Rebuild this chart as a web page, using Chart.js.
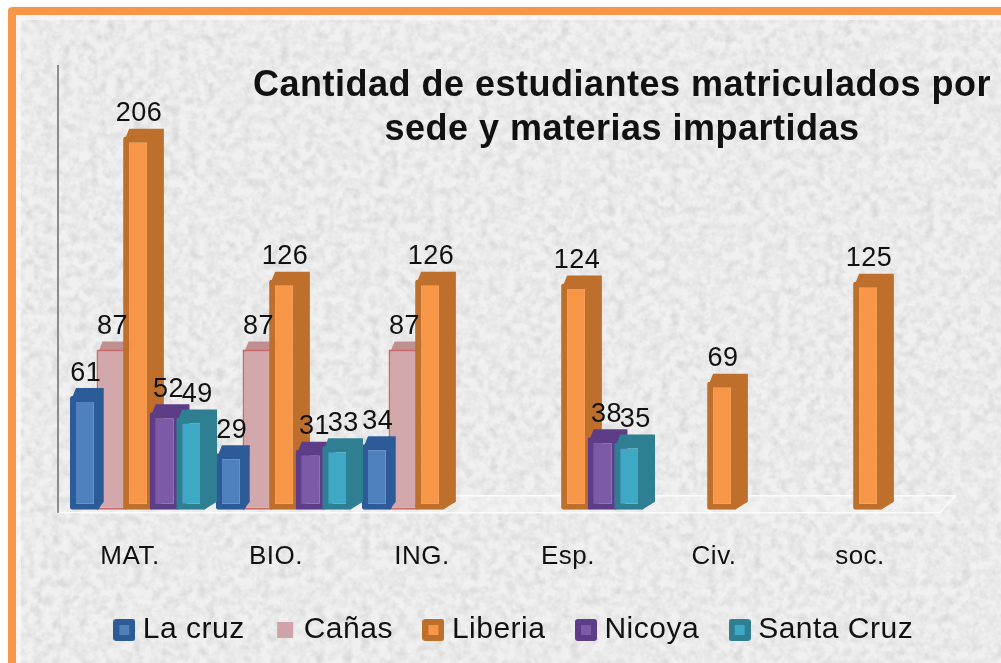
<!DOCTYPE html>
<html><head><meta charset="utf-8">
<style>
html,body{margin:0;padding:0;background:#fff;width:1001px;height:663px;overflow:hidden}
#bg{position:absolute;left:8px;top:7px;width:1040px;height:700px;box-sizing:border-box;border:8px solid #f79646;border-radius:4px;
background-color:#f0f0f0;
background-image:url("data:image/svg+xml;utf8,<svg xmlns='http://www.w3.org/2000/svg' width='1040' height='700'><filter id='n'><feTurbulence type='fractalNoise' baseFrequency='0.11' numOctaves='3' seed='7'/><feColorMatrix values='0 0 0 0 0.55  0 0 0 0 0.55  0 0 0 0 0.55  0.7 0.7 0 0 -0.56'/></filter><rect width='1040' height='700' filter='url(%23n)'/></svg>");
box-shadow:inset 0 0 0 5px rgba(255,255,255,.55)}
#c{position:absolute;left:0;top:0}
</style>
<script src="https://cdn.jsdelivr.net/npm/chart.js@4"></script>
</head><body><div id="bg"></div><canvas id="c" width="1001" height="663"></canvas>
<script>
const categories=['MAT.','BIO.','ING.','Esp.','Civ.','soc.'];
const laCruz=[61,29,34,null,null,null];
const canas=[87,87,87,null,null,null];
const liberia=[206,126,126,124,69,125];
const nicoya=[52,31,null,38,null,null];
const santaCruz=[49,33,null,35,null,null];
const seriesNames=['La cruz','Cañas','Liberia','Nicoya','Santa Cruz'];
const titleLines=['Cantidad de estudiantes matriculados por','sede y materias impartidas'];
const fills=['#4f81bd','#d3a8ac','#f79646','#7d5aa8','#3fa8c4'];
const darks=['#2d5b98','#c96a68','#bd6f2b','#5e3d88','#2f7f93'];
const caps=['#2d5b98','#bf8f92','#bd6f2b','#5e3d88','#2f7f93'];
const sides=['#2d5b98','rgba(225,190,190,.25)','#bd6f2b','#5e3d88','#2f7f93'];
const borderW=[6,2,6,6,6];
const depthX=[4,11,11,10,11];
const labelShift=[1,1,1,4,6];
const values=[laCruz,canas,liberia,nicoya,santaCruz];
const paintOrder=[1,0,2,3,4];
const DY=8;

function swatch(i){
  const s=document.createElement('canvas');s.width=22;s.height=22;const g=s.getContext('2d');
  if(i===1){g.fillStyle='#cfa3a8';g.fillRect(3,3,16,16);return s;}
  g.fillStyle=darks[i];g.beginPath();g.roundRect(0,0,22,22,3);g.fill();
  g.fillStyle=fills[i];g.fillRect(6,6,10,10);return s;
}
const swatches=seriesNames.map((_,i)=>swatch(i));

const scene={id:'scene',
  beforeLayout(chart){chart.ctx.letterSpacing='0.5px';},
  beforeDraw(chart){chart.ctx.letterSpacing='0.5px';},
  afterLayout(chart){
    const t=chart.titleBlock;
    t.left=622-380;t.right=622+380;t.top=64;t.bottom=t.top+t.height;
    const l=chart.legend; l.left+=14; l.right+=14; l.top=578; l.bottom=l.top+l.height;
  },
  beforeDatasetsDraw(chart){
    const c=chart.ctx,ys=chart.scales.y;
    const y0=ys.bottom;
    c.save();
    c.fillStyle='rgba(255,255,255,.22)';
    c.beginPath();c.moveTo(62,y0+3);c.lineTo(940,y0+3);c.lineTo(955,y0-14);c.lineTo(85,y0-14);c.closePath();c.fill();
    c.strokeStyle='#fbfbfb';c.lineWidth=1.5;
    c.beginPath();c.moveTo(60,y0+3);c.lineTo(940,y0+3);c.lineTo(955,y0-14);c.lineTo(85,y0-14);c.stroke();
    c.strokeStyle='#8c8c8c';c.lineWidth=2;
    c.beginPath();c.moveTo(58,65);c.lineTo(58,y0+3);c.stroke();
    c.restore();
    paintOrder.forEach(i=>{
      const vals=values[i],DX=depthX[i];
      chart.getDatasetMeta(i).data.forEach((b,j)=>{
        if(vals[j]==null)return;
        const p=b.getProps(['x','y','base','width'],true);
        const L=p.x-p.width/2,R=p.x+p.width/2;
        c.save();
        c.fillStyle=sides[i];
        c.beginPath();c.moveTo(R-2,p.y);c.lineTo(R+DX,p.y-DY);c.lineTo(R+DX,p.base-DY);c.lineTo(R-2,p.base);c.closePath();c.fill();
        c.fillStyle=caps[i];
        c.beginPath();c.moveTo(L+2,p.y+2);c.lineTo(L+6,p.y-DY);c.lineTo(R+DX,p.y-DY);c.lineTo(R,p.y+2);c.closePath();c.fill();
        c.restore();
        b.draw(c);
      });
    });
    c.save();c.font='27px "Liberation Sans"';c.fillStyle='#111';c.textAlign='center';c.textBaseline='middle';
    values.forEach((vals,i)=>{
      chart.getDatasetMeta(i).data.forEach((b,j)=>{
        if(vals[j]==null)return;
        const p=b.getProps(['x','y'],true);
        c.fillText(String(vals[j]),p.x+labelShift[i],p.y-23);
      });
    });
    c.restore();
    return false;
  }
};

new Chart(document.getElementById('c'),{
  type:'bar',
  data:{labels:categories,datasets:values.map((v,i)=>({
    label:seriesNames[i],data:v,base:-2.6,backgroundColor:fills[i],borderColor:darks[i],borderWidth:borderW[i],borderSkipped:false,borderRadius:i===1?0:2,
    categoryPercentage:.91,barPercentage:1.12
  }))},
  options:{
    responsive:false,animation:false,devicePixelRatio:1,
    layout:{padding:{left:65,right:60,top:0,bottom:-9}},
    plugins:{
      tooltip:{enabled:false},
      title:{display:true,text:titleLines,color:'#111',font:{family:'"Liberation Sans"',size:36,weight:'bold',lineHeight:1.22},padding:0},
      legend:{position:'bottom',onClick:null,labels:{font:{family:'"Liberation Sans"',size:30},color:'#111',usePointStyle:true,pointStyleWidth:7,boxHeight:22,padding:37,
        generateLabels:ch=>seriesNames.map((n,i)=>({text:n,datasetIndex:i,pointStyle:swatches[i],fontColor:'#111',hidden:false,lineWidth:0}))}}
    },
    scales:{
      x:{grid:{display:false},border:{display:false},ticks:{color:'#111',labelOffset:-8,font:{family:'"Liberation Sans"',size:26},padding:23,maxRotation:0}},
      y:{display:false,min:-2.6,max:233.4}
    }
  },
  plugins:[scene]
});
</script></body></html>
